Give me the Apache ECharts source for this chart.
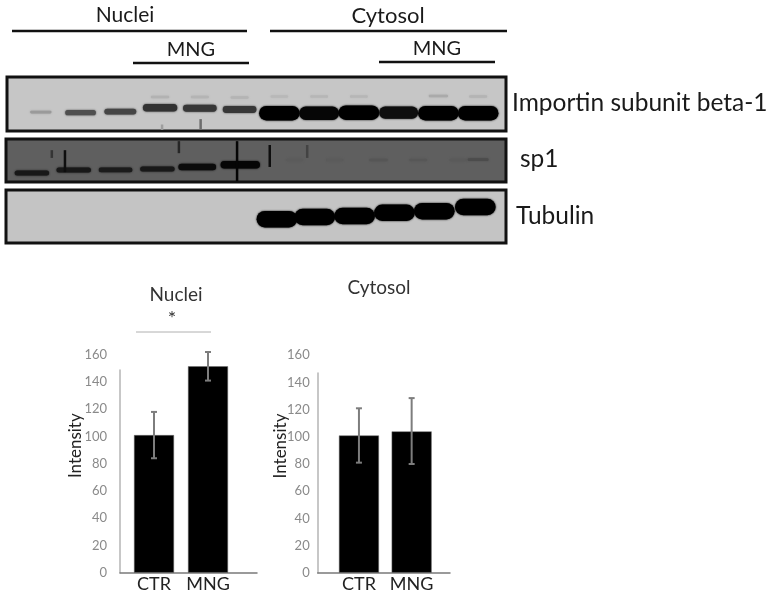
<!DOCTYPE html>
<html>
<head>
<meta charset="utf-8">
<script src="https://cdn.jsdelivr.net/npm/echarts@6/dist/echarts.min.js"></script>
<style>
  html, body { margin: 0; background: #fff; }
  #chart { width: 772px; height: 601px; }
</style>
</head>
<body>
<div id="chart"></div>
<script>
const categories = ["CTR", "MNG"];
const tickLabels = [0, 20, 40, 60, 80, 100, 120, 140, 160];

const nucleiValues = [101, 151.5];
const nucleiLow = [84, 141];
const nucleiHigh = [118, 162];
const cytosolValues = [101, 104];
const cytosolLow = [81, 80];
const cytosolHigh = [121, 128.5];

// blot bands: lane, position on the gel (0-100), density (0-1)
const importinBands = [
  [0, 35, 0.22], [1, 34, 0.6], [2, 36, 0.65], [3, 43, 0.75], [4, 42, 0.72], [5, 40, 0.72],
  [6, 33, 1], [7, 33, 0.97], [8, 34, 1], [9, 34, 0.93], [10, 33, 1], [11, 33, 1],
  [3, 63, 0.1], [4, 63, 0.09], [5, 62, 0.09], [6, 64, 0.07], [7, 64, 0.08], [8, 64, 0.08],
  [10, 65, 0.14], [11, 64, 0.09]
];
const sp1Bands = [
  [-0.2, 21, 0.75], [0.85, 28, 0.75], [1.9, 28, 0.72], [2.95, 30, 0.75], [3.95, 35, 0.88], [5.03, 40, 0.95],
  [6.4, 51, 0.04], [7.4, 51, 0.04], [8.5, 51, 0.1], [9.5, 51, 0.08], [10.5, 51, 0.05], [11, 52, 0.2]
];
const tubulinBands = [
  [5.95, 45, 1], [6.9, 49, 1], [7.9, 51, 1], [8.9, 57, 1], [9.9, 60, 1], [10.93, 68, 1]
];

// vertical smears: lane, from, to, density
const importinSmears = [[4.02, 2, 22, 0.45], [3.05, 2, 12, 0.2]];
const sp1Smears = [
  [0.3, 56, 74, 0.45], [0.63, 23, 74, 0.85], [3.49, 67, 95, 0.6], [4.95, 2, 95, 0.95],
  [5.77, 35, 86, 0.85], [6.71, 56, 86, 0.3]
];

function blotRender(paper, maxHeight) {
  return function (params, api) {
    const p = api.coord([api.value(0), api.value(1)]);
    const d = api.value(2);
    const laneWidth = api.size([1, 0])[0];
    const g = Math.round(paper * (1 - d));
    const w = laneWidth * (0.4 + 0.62 * d);
    const h = 2.5 + maxHeight * d * d * d;
    return {
      type: "rect",
      shape: { x: p[0] - w / 2, y: p[1] - h / 2, width: w, height: h, r: h / 2 },
      style: {
        fill: "rgb(" + g + "," + g + "," + g + ")",
        shadowBlur: 2,
        shadowColor: "rgb(" + g + "," + g + "," + g + ")"
      }
    };
  };
}

function smearRender(paper) {
  return function (params, api) {
    const a = api.coord([api.value(0), api.value(1)]);
    const b = api.coord([api.value(0), api.value(2)]);
    const g = Math.round(paper * (1 - api.value(3)));
    return {
      type: "line",
      shape: { x1: a[0], y1: a[1], x2: b[0], y2: b[1] },
      style: { stroke: "rgb(" + g + "," + g + "," + g + ")", lineWidth: 2.5 }
    };
  };
}

function errorRender(params, api) {
  const x = api.value(0);
  const lo = api.coord([x, api.value(1)]);
  const hi = api.coord([x, api.value(2)]);
  const style = { stroke: "#7d7d7d", lineWidth: 2 };
  return {
    type: "group",
    children: [
      { type: "line", shape: { x1: lo[0], y1: lo[1], x2: hi[0], y2: hi[1] }, style: style },
      { type: "line", shape: { x1: lo[0] - 3, y1: lo[1], x2: lo[0] + 3, y2: lo[1] }, style: style },
      { type: "line", shape: { x1: hi[0] - 3, y1: hi[1], x2: hi[0] + 3, y2: hi[1] }, style: style }
    ]
  };
}

function zipError(low, high) {
  return categories.map((c, i) => [i, low[i], high[i]]);
}

const font = "Lato";
const blotGrids = [
  { left: 7, width: 499, top: 77, height: 54, bg: "#c6c6c6" },
  { left: 6, width: 500, top: 139, height: 43, bg: "#5f5f5f" },
  { left: 6, width: 500, top: 190, height: 53, bg: "#c4c4c4" }
];
const grids = [];
const xAxes = [];
const yAxes = [];
const series = [];

blotGrids.forEach((b) => {
  grids.push({
    left: b.left, width: b.width, top: b.top, height: b.height,
    show: true, backgroundColor: b.bg, borderColor: "#111", borderWidth: 3
  });
  xAxes.push({ gridIndex: grids.length - 1, type: "value", min: -0.85, max: 11.7, show: false });
  yAxes.push({ gridIndex: grids.length - 1, type: "value", min: 0, max: 100, show: false });
});

function addBlot(index, bands, smears, paper, maxHeight) {
  series.push({
    type: "custom", xAxisIndex: index, yAxisIndex: index, data: bands,
    clip: true, renderItem: blotRender(paper, maxHeight)
  });
  if (smears) {
    series.push({
      type: "custom", xAxisIndex: index, yAxisIndex: index, data: smears,
      clip: true, renderItem: smearRender(paper)
    });
  }
}
addBlot(0, importinBands, importinSmears, 198, 12);
addBlot(1, sp1Bands, sp1Smears, 95, 6);
addBlot(2, tubulinBands, null, 196, 14);

function addBarChart(frame, bars, values, low, high, labelMargin) {
  // short axis lines, as in the spreadsheet chart
  grids.push({ left: frame.left, width: frame.width, top: frame.top, height: frame.height });
  const f = grids.length - 1;
  xAxes.push({
    gridIndex: f, type: "value", min: 0, max: 1,
    axisLine: { show: true, lineStyle: { color: "#7a7a7a", width: 1.5 } },
    axisTick: { show: false }, axisLabel: { show: false }, splitLine: { show: false }
  });
  yAxes.push({
    gridIndex: f, type: "value", min: 0, max: 1,
    axisLine: { show: true, lineStyle: { color: "#b5b5b5", width: 1.5 } },
    axisTick: { show: false }, axisLabel: { show: false }, splitLine: { show: false }
  });

  grids.push({ left: bars.left, width: bars.width, top: bars.top, height: bars.height });
  const g = grids.length - 1;
  xAxes.push({
    gridIndex: g, type: "category", data: categories,
    axisLine: { show: false }, axisTick: { show: false },
    axisLabel: { color: "#222", fontFamily: font, fontSize: 18, margin: 2, interval: 0 }
  });
  yAxes.push({
    gridIndex: g, type: "value", min: tickLabels[0], max: tickLabels[tickLabels.length - 1], interval: 20,
    offset: bars.left - frame.left,
    name: "Intensity", nameLocation: "middle", nameRotate: 90, nameGap: bars.nameGap,
    nameMoveOverlap: false,
    nameTextStyle: { color: "#222", fontFamily: font, fontSize: 17, padding: [0, 0, 0, 36] },
    axisLine: { show: false }, axisTick: { show: false },
    axisLabel: { color: "#8a8a8a", fontFamily: font, fontSize: 13, margin: labelMargin },
    splitLine: { show: false }
  });
  series.push({
    type: "bar", xAxisIndex: g, yAxisIndex: g, data: values, barWidth: 40,
    itemStyle: { color: "#000", borderColor: "#6e6e6e", borderWidth: 0.5 }
  });
  series.push({
    type: "custom", xAxisIndex: g, yAxisIndex: g, data: zipError(low, high),
    encode: { x: 0, y: [1, 2] }, renderItem: errorRender, z: 5
  });
}

addBarChart(
  { left: 120, width: 137, top: 370, height: 202.7 },
  { left: 127, width: 108, top: 354.7, height: 218, nameGap: 36 },
  nucleiValues, nucleiLow, nucleiHigh, 13
);
addBarChart(
  { left: 317.7, width: 132.3, top: 373, height: 199.7 },
  { left: 332.6, width: 105.4, top: 355.3, height: 217.4, nameGap: 29 },
  cytosolValues, cytosolLow, cytosolHigh, 8
);

function label(text, x, y, size, color, align) {
  return {
    type: "text", x: x, y: y,
    style: {
      text: text, fill: color || "#1a1a1a", font: size + "px " + font,
      textAlign: align || "center", textVerticalAlign: "middle"
    }
  };
}
function rule(x1, x2, y, width, color) {
  return {
    type: "line", shape: { x1: x1, y1: y, x2: x2, y2: y },
    style: { stroke: color || "#111", lineWidth: width }
  };
}

const chart = echarts.init(document.getElementById("chart"), null, { renderer: "canvas" });
chart.setOption({
  animation: false,
  backgroundColor: "#fff",
  grid: grids,
  xAxis: xAxes,
  yAxis: yAxes,
  series: series,
  graphic: [
    label("Nuclei", 125, 15, 21),
    label("Cytosol", 388, 16, 22),
    label("MNG", 191, 50, 20),
    label("MNG", 437, 49, 20),
    rule(12, 247, 31, 2.5),
    rule(270, 507, 31, 2.5),
    rule(133, 249, 63, 2.5),
    rule(379, 495, 62, 2.5),
    label("Importin subunit beta-1", 512, 103, 24.5, "#1a1a1a", "left"),
    label("sp1", 520, 159, 24.5, "#1a1a1a", "left"),
    label("Tubulin", 516, 216, 24.5, "#1a1a1a", "left"),
    label("Nuclei", 176, 295, 19, "#333"),
    label("*", 172, 319, 20, "#333"),
    rule(136, 211, 332, 1, "#b0b0b0"),
    label("Cytosol", 379, 288, 19, "#333")
  ]
});
</script>
</body>
</html>
